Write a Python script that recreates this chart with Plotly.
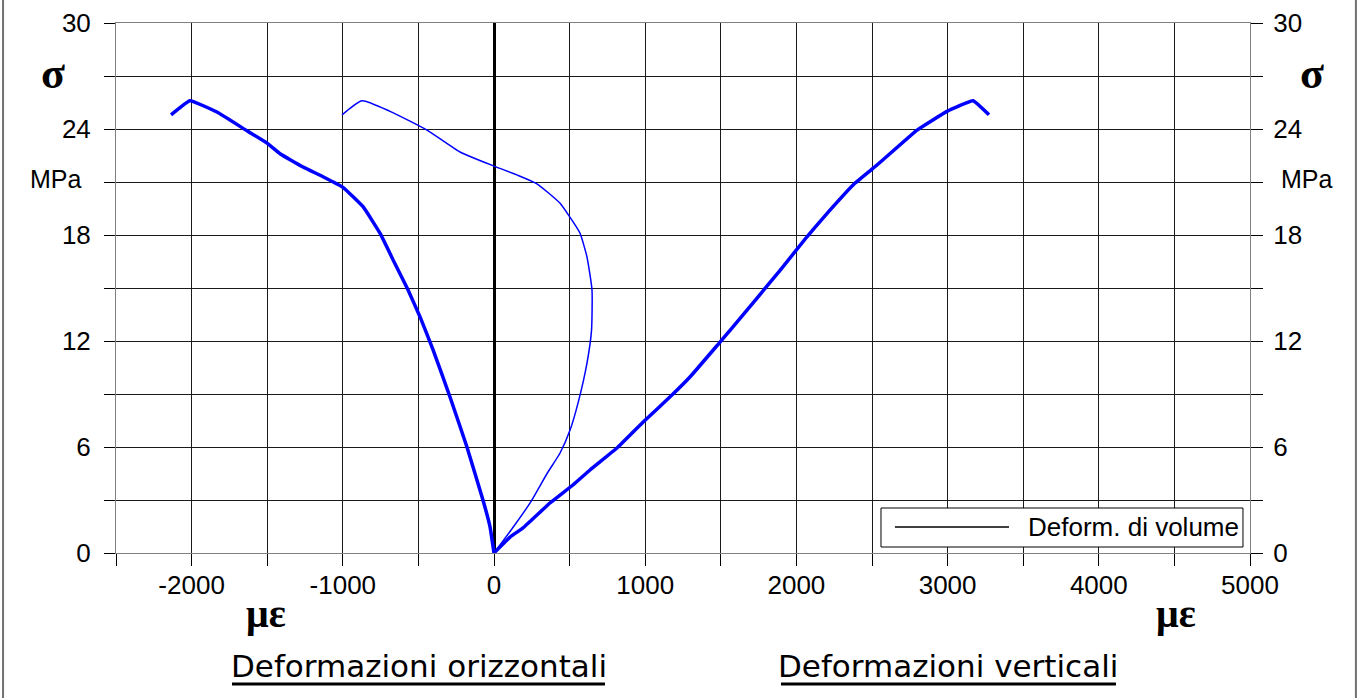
import plotly.graph_objects as go

# Deformazioni orizzontali (microstrain, negative) vs sigma (MPa)
horiz_x = [0, -26, -73, -179, -291, -403, -489, -569, -668, -754, -866, -999,
           -1131, -1263, -1415, -1501, -1634, -1832, -2011, -2136]
horiz_y = [0, 1.47, 3.0, 6.0, 8.83, 11.5, 13.36, 14.9, 16.6, 18.1, 19.6, 20.7,
           21.3, 21.85, 22.6, 23.2, 23.9, 24.96, 25.6, 24.8]

# Deformazioni verticali
vert_x = [0, 106, 192, 370, 522, 635, 813, 985, 1177, 1296, 1495, 1561, 1892,
          2070, 2176, 2388, 2533, 2798, 2996, 3168, 3274]
vert_y = [0, 0.9, 1.42, 2.83, 3.85, 4.7, 5.94, 7.4, 8.94, 9.96, 11.94, 12.6, 16.0,
          17.9, 18.96, 20.94, 21.96, 23.94, 25.0, 25.6, 24.8]

# Deformazione di volume
vol_x = [0, 130, 240, 351, 437, 503, 556, 615, 645, 648, 615, 569, 503, 437,
         284, 152, 0, -225, -443, -688, -873, -1005]
vol_y = [0, 1.5, 2.85, 4.5, 5.66, 6.96, 8.5, 10.75, 12.6, 14.9, 16.75, 18.1, 19.0,
         19.8, 20.9, 21.4, 21.9, 22.7, 23.94, 25.0, 25.6, 24.8]

x_ticks = [-2500, -2000, -1500, -1000, -500, 0, 500, 1000, 1500, 2000, 2500,
           3000, 3500, 4000, 4500, 5000]
x_labels = ["", "-2000", "", "-1000", "", "0", "", "1000", "", "2000", "",
            "3000", "", "4000", "", "5000"]
y_ticks = [0, 3, 6, 9, 12, 15, 18, 21, 24, 27, 30]
y_labels = ["0", "", "6", "", "12", "", "18", "", "24", "", "30"]

legend_name = "Deform. di volume"
title_h = "Deformazioni orizzontali"
title_v = "Deformazioni verticali"

BLUE = "#0000FF"
TICKFONT = dict(family="Liberation Sans, Arial", size=26, color="black")

fig = go.Figure()
fig.add_trace(go.Scatter(x=horiz_x, y=horiz_y, mode="lines",
                         line=dict(color=BLUE, width=3.5, shape="spline", smoothing=0.3),
                         showlegend=False, hoverinfo="skip"))
fig.add_trace(go.Scatter(x=vert_x, y=vert_y, mode="lines",
                         line=dict(color=BLUE, width=3.5, shape="spline", smoothing=0.3),
                         showlegend=False, hoverinfo="skip"))
fig.add_trace(go.Scatter(x=vol_x, y=vol_y, mode="lines", yaxis="y2",
                         line=dict(color=BLUE, width=1.5, shape="spline", smoothing=0.5),
                         showlegend=False, name=legend_name, hoverinfo="skip"))

fig.update_layout(
    width=1361, height=698,
    margin=dict(l=116, r=111, t=23, b=145, autoexpand=False),
    paper_bgcolor="white", plot_bgcolor="white",
    showlegend=False,
    xaxis=dict(range=[-2500, 5000], tickmode="array", tickvals=x_ticks,
               ticktext=x_labels, ticks="outside", ticklen=12, tickcolor="black",
               tickwidth=1, showgrid=True, gridcolor="#1a1a1a", gridwidth=1,
               zeroline=True, zerolinecolor="black", zerolinewidth=3,
               showline=True, linecolor="#808080", linewidth=1, mirror=True,
               tickfont=TICKFONT, ticklabelstandoff=-3, automargin=False),
    yaxis=dict(range=[0, 30], tickmode="array", tickvals=y_ticks,
               ticktext=y_labels, ticks="outside", ticklen=11, tickcolor="black",
               showgrid=True, gridcolor="#1a1a1a", gridwidth=1, zeroline=False,
               showline=True, linecolor="#808080", linewidth=1, mirror=True,
               tickfont=TICKFONT, ticklabelstandoff=8, automargin=False),
    yaxis2=dict(range=[0, 30], overlaying="y", side="right", matches="y",
                tickmode="array", tickvals=y_ticks, ticktext=y_labels,
                ticks="outside", ticklen=12, tickcolor="black", showgrid=False,
                zeroline=False, showline=False, tickfont=TICKFONT,
                ticklabelstandoff=5, automargin=False),
)

ann = []
sig_font = dict(family="Liberation Serif, Times New Roman", size=44, color="black")
for xp in (-0.0556, 1.0547):
    ann.append(dict(text="<b>σ</b>", xref="paper", yref="paper", x=xp, y=0.905,
                    showarrow=False, font=sig_font, xanchor="center", yanchor="middle"))
mpa_font = dict(family="Liberation Sans, Arial", size=25, color="black")
for xp in (-0.0529, 1.0503):
    ann.append(dict(text="MPa", xref="paper", yref="paper", x=xp, y=0.7057,
                    showarrow=False, font=mpa_font, xanchor="center", yanchor="middle"))
mu_font = dict(family="Liberation Serif, Times New Roman", size=40, color="black")
for xp in (0.1323, 0.9347):
    ann.append(dict(text="<b>με</b>", xref="paper", yref="paper", x=xp, y=-0.115,
                    showarrow=False, font=mu_font, xanchor="center", yanchor="middle"))
tfont = dict(family="DejaVu Sans", size=31, color="black")
ann.append(dict(text=title_h, xref="paper", yref="paper",
                x=0.2676, y=-0.214, showarrow=False, font=tfont,
                xanchor="center", yanchor="middle"))
ann.append(dict(text=title_v, xref="paper", yref="paper",
                x=0.7341, y=-0.214, showarrow=False, font=tfont,
                xanchor="center", yanchor="middle"))
# manual legend
ann.append(dict(text=legend_name, xref="paper", yref="paper", x=0.8025, y=0.049,
                showarrow=False, xanchor="left", yanchor="middle",
                font=dict(family="Liberation Sans, Arial", size=26, color="black")))
fig.update_layout(annotations=ann)

shapes = [
    dict(type="rect", xref="paper", yref="paper", x0=0.6746, x1=0.9938,
         y0=0.0113, y1=0.0849, line=dict(color="black", width=1),
         fillcolor="white", layer="above"),
    dict(type="line", xref="paper", yref="paper", x0=0.6869, x1=0.7875,
         y0=0.049, y1=0.049, line=dict(color="black", width=1.5)),
    # underlines of the two captions
    dict(type="line", xref="paper", yref="paper", x0=0.1023, x1=0.4312,
         y0=-0.2472, y1=-0.2472, line=dict(color="black", width=3)),
    dict(type="line", xref="paper", yref="paper", x0=0.5864, x1=0.8818,
         y0=-0.2472, y1=-0.2472, line=dict(color="black", width=3)),
    # outer frame
    dict(type="line", xref="paper", yref="paper", x0=-0.0996, x1=-0.0996,
         y0=-0.35, y1=1.1, line=dict(color="#707070", width=2)),
    dict(type="line", xref="paper", yref="paper", x0=1.0934, x1=1.0934,
         y0=-0.35, y1=1.1, line=dict(color="#707070", width=2)),
]
fig.update_layout(shapes=shapes)

# remove the default 8px page margin so the 1361x698 figure fills the window
fig.write_html("out.html",
               config={"displayModeBar": False, "staticPlot": True},
               post_script="document.body.style.margin='0';document.body.style.overflow='hidden';")
